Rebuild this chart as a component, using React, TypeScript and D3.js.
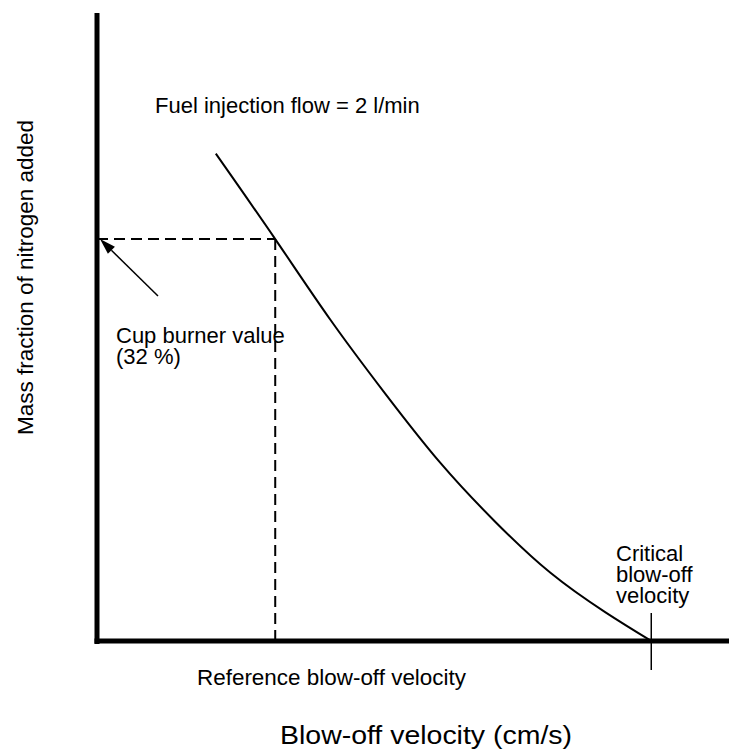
import React from "react";
import * as d3 from "d3";

// Schematic data (arbitrary velocity units, mass fraction in %)
const curveVelocity = [18.8, 28.2, 36.9, 45.6, 54.3, 63.0, 71.7, 80.4, 87.7];
const curveFraction = [38.8, 32.0, 25.6, 19.7, 14.2, 9.5, 5.45, 2.3, 0];
const referenceVelocity = [28.2];
const cupBurnerValue = [32];
const criticalVelocity = [87.7];
const xDomain = [0, 100];
const yDomain = [0, 50];

const cupLines = ["Cup burner value", "(32 %)"];
const critLines = ["Critical", "blow-off", "velocity"];

const W = 729;
const H = 752;
const FONT = "'Liberation Sans', Arial, Helvetica, sans-serif";

export default function App() {
  const x = d3.scaleLinear().domain(xDomain).range([97, 729]);
  const y = d3.scaleLinear().domain(yDomain).range([641, 13]);

  const pts: [number, number][] = curveVelocity.map((v, i) => [v, curveFraction[i]]);
  const line = d3
    .line<[number, number]>()
    .x((d) => x(d[0]))
    .y((d) => y(d[1]))
    .curve(d3.curveNatural);

  const refX = x(referenceVelocity[0]);
  const cupY = y(cupBurnerValue[0]);
  const critX = x(criticalVelocity[0]);
  const x0 = x(0);
  const y0 = y(0);

  // arrow pointing at the cup burner value on the y-axis
  const tipX = x0 + 3;
  const tipY = cupY;
  const tailX = 158;
  const tailY = 296;
  const ang = Math.atan2(tipY - tailY, tipX - tailX);
  const hl = 16;
  const hw = 5;
  const bx = tipX - hl * Math.cos(ang);
  const by = tipY - hl * Math.sin(ang);
  const px = -Math.sin(ang);
  const py = Math.cos(ang);
  const head = `M${tipX},${tipY}L${bx + hw * px},${by + hw * py}L${bx - hw * px},${by - hw * py}Z`;

  return (
    <svg
      width={W}
      height={H}
      style={{ position: "absolute", left: 0, top: 0, background: "#fff" }}
      fontFamily={FONT}
    >
      <rect x={0} y={0} width={W} height={H} fill="#fff" />
      {/* dashed guide lines */}
      <line x1={x0} y1={cupY} x2={refX} y2={cupY} stroke="#000" strokeWidth={2} strokeDasharray="11,6" />
      <line x1={refX} y1={cupY} x2={refX} y2={y0} stroke="#000" strokeWidth={2} strokeDasharray="11,6" />
      {/* curve */}
      <path d={line(pts) || ""} fill="none" stroke="#000" strokeWidth={2} />
      {/* critical tick */}
      <line x1={critX} y1={613} x2={critX} y2={670} stroke="#000" strokeWidth={1.5} />
      {/* axes */}
      <line x1={x0} y1={13} x2={x0} y2={y0 + 3} stroke="#000" strokeWidth={5} />
      <line x1={x0 - 2.5} y1={y0} x2={729} y2={y0} stroke="#000" strokeWidth={5} />
      {/* arrow */}
      <line x1={tailX} y1={tailY} x2={bx} y2={by} stroke="#000" strokeWidth={1.5} />
      <path d={head} fill="#000" />
      {/* texts */}
      <text x={155} y={113} fontSize={22} fill="#000">Fuel injection flow = 2 l/min</text>
      <text x={116} y={343} fontSize={22} fill="#000">
        {cupLines.map((t, i) => (
          <tspan key={t} x={116} dy={i === 0 ? 0 : 21}>{t}</tspan>
        ))}
      </text>
      <text x={616} y={561} fontSize={22} fill="#000">
        {critLines.map((t, i) => (
          <tspan key={t} x={616} dy={i === 0 ? 0 : 21}>{t}</tspan>
        ))}
      </text>
      <text x={197} y={685} fontSize={22} fill="#000" textLength={269} lengthAdjust="spacingAndGlyphs">
        Reference blow-off velocity
      </text>
      <text x={280} y={744} fontSize={25} fill="#000" textLength={292} lengthAdjust="spacingAndGlyphs">
        Blow-off velocity (cm/s)
      </text>
      <text
        transform={`translate(33,277.5) rotate(-90)`}
        textAnchor="middle"
        fontSize={22.5}
        fill="#000"
      >
        Mass fraction of nitrogen added
      </text>
    </svg>
  );
}
